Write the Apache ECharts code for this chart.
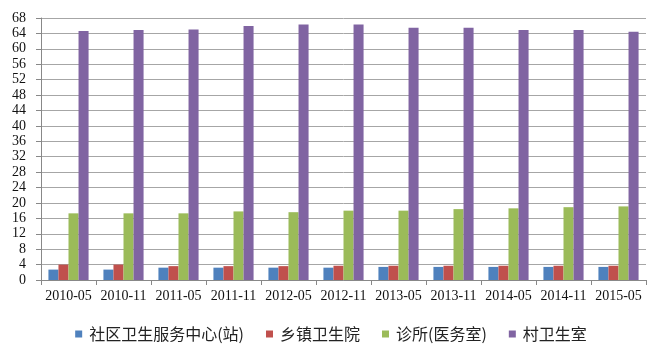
<!DOCTYPE html>
<html><head><meta charset="utf-8">
<script src="https://cdn.jsdelivr.net/npm/echarts@6/dist/echarts.min.js"></script>
<style>html,body{margin:0;padding:0;background:#fff}#c{width:662px;height:360px}</style>
</head><body><div id="c"></div>
<script>
const categories = ['2010-05','2010-11','2011-05','2011-11','2012-05','2012-11','2013-05','2013-11','2014-05','2014-11','2015-05'];
const seriesNames = ['社区卫生服务中心(站)','乡镇卫生院','诊所(医务室)','村卫生室'];
const community = [2.7,2.7,3.2,3.2,3.2,3.2,3.4,3.4,3.4,3.4,3.4];
const township = [4.0,4.0,3.6,3.6,3.6,3.7,3.7,3.7,3.7,3.7,3.7];
const clinic = [17.3,17.3,17.3,17.8,17.6,18.0,18.0,18.4,18.6,18.9,19.1];
const village = [64.6,64.9,65.0,65.9,66.3,66.3,65.5,65.5,64.9,64.9,64.4];
const yTicks = {min:0,max:68,interval:4};
const colors = ['#4F81BD','#C0504D','#9BBB59','#8064A2'];
const dataSets = [community, township, clinic, village];

const chart = echarts.init(document.getElementById('c'), null, {renderer:'canvas'});
chart.setOption({
  animation:false,
  color:colors,
  grid:{left:41,right:16,top:18,bottom:80,containLabel:false},
  legend:{
    top:321,left:'center',itemWidth:7,itemHeight:7,itemGap:22,
    icon:'rect',
    textStyle:{fontFamily:'"Noto Sans CJK SC", sans-serif',fontSize:16,color:'#222',padding:[0,0,0,2]},
    data:seriesNames
  },
  xAxis:{
    type:'category',data:categories,
    axisLine:{lineStyle:{color:'#888'}},
    axisTick:{show:true,length:5,lineStyle:{color:'#888'}},
    axisLabel:{fontFamily:'"Liberation Serif", serif',fontSize:14,color:'#111',margin:9,interval:0}
  },
  yAxis:{
    type:'value',min:yTicks.min,max:yTicks.max,interval:yTicks.interval,
    axisLine:{show:true,lineStyle:{color:'#888'}},
    axisTick:{show:true,length:5,lineStyle:{color:'#888'}},
    splitLine:{lineStyle:{color:'#a6a6a6'}},
    axisLabel:{fontFamily:'"Liberation Serif", serif',fontSize:14,color:'#111',margin:15}
  },
  series:dataSets.map((d,i)=>({
    name:seriesNames[i],type:'bar',data:d,
    barGap:'0%',barCategoryGap:'27%',
    itemStyle:{color:colors[i]}
  }))
});
</script></body></html>
